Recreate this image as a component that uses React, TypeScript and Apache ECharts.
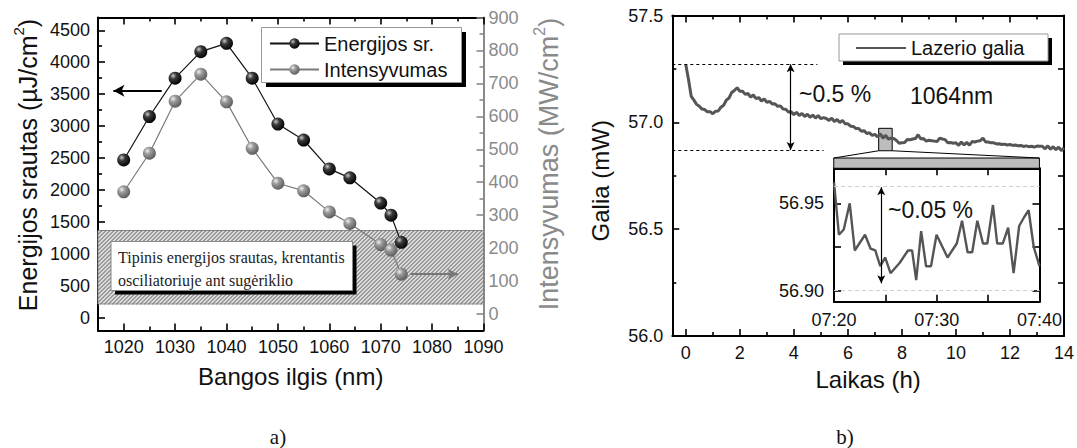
import React, { useEffect, useRef } from "react";
import * as echarts from "echarts";

const FONT = "'Liberation Sans', Arial, Helvetica, sans-serif";
const SERIF = "'Liberation Serif', 'Times New Roman', serif";

// ---------- Panel a) ----------
const wavelengths = [1020, 1025, 1030, 1035, 1040, 1045, 1050, 1055, 1060, 1064, 1070, 1072, 1074];
const energyFluence = [2470, 3150, 3750, 4165, 4295, 3750, 3032, 2782, 2330, 2190, 1795, 1605, 1180];
const intensity = [371, 488, 646, 728, 644, 503, 397, 374, 310, 275, 211, 194, 121];
const bandEnergy = [215, 1365];
const energyArrow = { from: 1027.4, to: 1018, y: 3555 };
const intensityArrow = { from: 1075.8, to: 1085, y: 121 };

const waveMajorTicks = [1020, 1030, 1040, 1050, 1060, 1070, 1080, 1090];
const waveMinorTicks = [1015, 1025, 1035, 1045, 1055, 1065, 1075, 1085];
const energyMajorTicks = [0, 500, 1000, 1500, 2000, 2500, 3000, 3500, 4000, 4500];
const energyMinorTicks = [250, 750, 1250, 1750, 2250, 2750, 3250, 3750, 4250];
const intensityMajorTicks = [0, 100, 200, 300, 400, 500, 600, 700, 800, 900];
const intensityMinorTicks = [50, 150, 250, 350, 450, 550, 650, 750, 850];

// ---------- Panel b) ----------
const powerStartHour = 0;
const powerStepHour = 0.1;
const laserPower = [
  57.270, 57.200, 57.122, 57.104, 57.084, 57.075, 57.062, 57.060, 57.049, 57.050,
  57.040, 57.052, 57.053, 57.071, 57.080, 57.104, 57.114, 57.140, 57.149, 57.162,
  57.145, 57.146, 57.131, 57.135, 57.118, 57.128, 57.111, 57.116, 57.100, 57.110,
  57.094, 57.098, 57.086, 57.087, 57.075, 57.077, 57.062, 57.061, 57.048, 57.049,
  57.036, 57.047, 57.032, 57.042, 57.027, 57.038, 57.024, 57.034, 57.020, 57.032,
  57.017, 57.022, 57.018, 57.009, 57.019, 57.004, 57.013, 56.999, 57.009, 56.993,
  56.993, 56.982, 56.981, 56.971, 56.971, 56.958, 56.961, 56.948, 56.951, 56.939,
  56.944, 56.932, 56.946, 56.926, 56.939, 56.921, 56.926, 56.924, 56.915, 56.902,
  56.904, 56.906, 56.920, 56.918, 56.922, 56.924, 56.942, 56.922, 56.924, 56.912,
  56.916, 56.914, 56.912, 56.910, 56.926, 56.922, 56.919, 56.904, 56.906, 56.902,
  56.904, 56.892, 56.908, 56.894, 56.906, 56.893, 56.910, 56.908, 56.912, 56.914,
  56.926, 56.908, 56.908, 56.904, 56.904, 56.899, 56.900, 56.896, 56.898, 56.894,
  56.896, 56.892, 56.894, 56.890, 56.892, 56.887, 56.890, 56.886, 56.888, 56.884,
  56.889, 56.888, 56.888, 56.876, 56.890, 56.874, 56.886, 56.872, 56.884, 56.868,
  56.880,
];
const hourMajorTicks = [0, 2, 4, 6, 8, 10, 12, 14];
const hourMinorTicks = [1, 3, 5, 7, 9, 11, 13];
const powerMajorTicks = [56.0, 56.5, 57.0, 57.5];
const powerMinorTicks = [56.25, 56.75, 57.25];
const driftLevels = { high: 57.272, low: 56.87, arrowHour: 3.88, highEnd: 4.87, lowEnd: 5.1 };
const zoomBox = { h0: 7.14, h1: 7.64, v0: 56.867, v1: 56.972 };
const insetAnchor = { h0: 5.477, h1: 13.09, vTop: 56.833, vBottom: 56.785 };

// inset
const insetMinutes = [0, 0.48, 0.95, 1.53, 2.02, 3.02, 3.56, 4.02, 4.5, 4.98, 5.5, 6.4, 7.2, 7.6, 8.0, 8.48, 8.96, 9.44, 9.98, 11.05, 11.95, 12.46, 13.0, 13.45, 13.95, 14.5, 14.92, 15.47, 15.88, 16.43, 16.95, 17.48, 18.02, 18.5, 18.94, 19.44, 20.0];
const insetPower = [56.962, 56.932, 56.935, 56.950, 56.923, 56.932, 56.924, 56.923, 56.914, 56.919, 56.910, 56.916, 56.923, 56.923, 56.906, 56.934, 56.914, 56.914, 56.932, 56.919, 56.927, 56.940, 56.922, 56.922, 56.940, 56.927, 56.927, 56.949, 56.927, 56.927, 56.936, 56.910, 56.937, 56.942, 56.946, 56.925, 56.914];
const insetTickMinutes = [0, 5, 10, 15, 20];
const insetLabelMinutes = [0, 10, 20];
const insetTimeLabels = ["07:20", "07:30", "07:40"];
const insetPowerTicks = [56.9, 56.925, 56.95];
const insetPowerLabels = [56.9, 56.95];
const insetRange = { high: 56.9592, low: 56.9042, arrowMinute: 4.6 };

type AxOpt = {
  grid: number;
  pos: "left" | "right" | "top" | "bottom";
  min: number;
  max: number;
  ticks: number[];
  len: number;
  color?: string;
  line?: boolean;
  labels?: number[];
  fmt?: (v: number) => string;
  margin?: number;
  name?: string;
  nameGap?: number;
  nameStyle?: any;
};

const ax = (o: AxOpt) => {
  const c = o.color || "#000";
  const a: any = {
    type: "value",
    gridIndex: o.grid,
    position: o.pos,
    min: o.min,
    max: o.max,
    axisLine: { show: !!o.line, onZero: false, lineStyle: { color: c, width: 2 } },
    axisTick: { show: true, inside: true, length: o.len, customValues: o.ticks, lineStyle: { color: c, width: 1.6 } },
    axisLabel: o.labels
      ? { show: true, customValues: o.labels, formatter: o.fmt, margin: o.margin ?? 8, color: o.color ? c : "#111", fontSize: 18, fontFamily: FONT }
      : { show: false },
    splitLine: { show: false },
    minorTick: { show: false },
    silent: true,
  };
  if (o.name) {
    a.name = o.name;
    a.nameLocation = "middle";
    a.nameGap = o.nameGap;
    a.nameTextStyle = o.nameStyle;
    if (o.pos === "left" || o.pos === "right") a.nameRotate = 90;
  }
  return a;
};

const supRich = (color: string, size: number, padding: number[]) => ({
  padding,
  rich: {
    t: { fontSize: size, fontFamily: FONT, color, lineHeight: size + 4, verticalAlign: "bottom" },
    s: { fontSize: Math.round(size * 0.6), fontFamily: FONT, color, lineHeight: Math.round(size * 0.6), verticalAlign: "top" },
  },
});

const sphere = (c0: string, c1: string, c2: string) =>
  new echarts.graphic.RadialGradient(0.35, 0.32, 0.72, [
    { offset: 0, color: c0 },
    { offset: 0.35, color: c1 },
    { offset: 1, color: c2 },
  ]);

function buildOption(): any {
  const int = (v: number) => String(Math.round(v));
  const xAxis = [
    ax({ grid: 0, pos: "bottom", min: 1015, max: 1090, ticks: waveMajorTicks, len: 7, line: true, labels: waveMajorTicks, fmt: int, margin: 7,
      name: "Bangos ilgis (nm)", nameGap: 34, nameStyle: { fontSize: 24, fontFamily: FONT, color: "#111" } }),
    ax({ grid: 0, pos: "bottom", min: 1015, max: 1090, ticks: waveMinorTicks, len: 4 }),
    ax({ grid: 0, pos: "top", min: 1015, max: 1090, ticks: waveMajorTicks, len: 7, line: true }),
    ax({ grid: 0, pos: "top", min: 1015, max: 1090, ticks: waveMinorTicks, len: 4 }),
    ax({ grid: 1, pos: "bottom", min: -0.5, max: 14, ticks: hourMajorTicks, len: 7, line: true, labels: hourMajorTicks, fmt: int, margin: 8,
      name: "Laikas (h)", nameGap: 31, nameStyle: { fontSize: 24, fontFamily: FONT, color: "#111" } }),
    ax({ grid: 1, pos: "bottom", min: -0.5, max: 14, ticks: hourMinorTicks, len: 4 }),
    ax({ grid: 1, pos: "top", min: -0.5, max: 14, ticks: hourMajorTicks, len: 7, line: true }),
    ax({ grid: 1, pos: "top", min: -0.5, max: 14, ticks: hourMinorTicks, len: 4 }),
    ax({ grid: 2, pos: "bottom", min: 0, max: 20, ticks: insetTickMinutes, len: 7, line: true, labels: insetLabelMinutes,
      fmt: (v: number) => insetTimeLabels[insetLabelMinutes.indexOf(Math.round(v))] ?? "", margin: 9 }),
    ax({ grid: 2, pos: "top", min: 0, max: 20, ticks: insetTickMinutes, len: 7, line: true }),
  ];
  const yAxis = [
    ax({ grid: 0, pos: "left", min: -200, max: 4700, ticks: energyMajorTicks, len: 7, line: true, labels: energyMajorTicks, fmt: int, margin: 8,
      name: "{t|Energijos srautas (µJ/cm}{s|2}{t|)}", nameGap: 58, nameStyle: supRich("#111", 25, [0, 0, 0, 18]) }),
    ax({ grid: 0, pos: "left", min: -200, max: 4700, ticks: energyMinorTicks, len: 4 }),
    ax({ grid: 0, pos: "right", min: -50, max: 900, ticks: intensityMajorTicks, len: 7, color: "#8a8a8a", line: true, labels: intensityMajorTicks, fmt: int, margin: 5,
      name: "{t|Intensyvumas (MW/cm}{s|2}{t|)}", nameGap: 48, nameStyle: supRich("#8a8a8a", 27, [0, 0, 0, 20]) }),
    ax({ grid: 0, pos: "right", min: -50, max: 900, ticks: intensityMinorTicks, len: 4, color: "#8a8a8a" }),
    ax({ grid: 1, pos: "left", min: 56, max: 57.5, ticks: powerMajorTicks, len: 7, line: true, labels: powerMajorTicks, fmt: (v: number) => v.toFixed(1), margin: 9,
      name: "Galia (mW)", nameGap: 60, nameStyle: { fontSize: 24, fontFamily: FONT, color: "#111", padding: [0, 10, 0, 0] } }),
    ax({ grid: 1, pos: "right", min: 56, max: 57.5, ticks: [...powerMajorTicks, ...powerMinorTicks], len: 6, line: true }),
    ax({ grid: 2, pos: "left", min: 56.8937, max: 56.97, ticks: insetPowerTicks, len: 7, line: true, labels: insetPowerLabels, fmt: (v: number) => v.toFixed(2), margin: 10 }),
    ax({ grid: 2, pos: "right", min: 56.8937, max: 56.97, ticks: insetPowerTicks, len: 7, line: true }),
    ax({ grid: 1, pos: "left", min: 56, max: 57.5, ticks: powerMinorTicks, len: 4 }),
  ];

  const noMark = { silent: true, animation: false };

  const series: any[] = [
    {
      type: "custom",
      name: "band",
      xAxisIndex: 0,
      yAxisIndex: 0,
      z: 1,
      silent: true,
      encode: { x: [0, 1], y: [2, 3] },
      data: [[1015, 1090, bandEnergy[0], bandEnergy[1]]],
      renderItem: (params: any, api: any) => {
        const p0 = api.coord([api.value(0), api.value(3)]);
        const p1 = api.coord([api.value(1), api.value(2)]);
        const x0 = p0[0], x1 = p1[0], yTop = p0[1], yBot = p1[1];
        const h = yBot - yTop;
        const children: any[] = [
          { type: "rect", shape: { x: x0, y: yTop, width: x1 - x0, height: h }, style: { fill: "#dcdcdc", stroke: "#8a8a8a", lineWidth: 1 } },
        ];
        const gap = 4;
        for (let s = x0 - h; s < x1; s += gap) {
          const t0 = Math.max(0, x0 - s);
          const t1 = Math.min(h, x1 - s);
          if (t1 <= t0) continue;
          children.push({
            type: "line",
            shape: { x1: s + t0, y1: yBot - t0, x2: s + t1, y2: yBot - t1 },
            style: { stroke: "#4a4a4a", lineWidth: 0.9 },
          });
        }
        return { type: "group", children };
      },
    },
    {
      type: "line",
      name: "Energijos sr.",
      xAxisIndex: 0,
      yAxisIndex: 0,
      z: 4,
      data: wavelengths.map((w, i) => [w, energyFluence[i]]),
      symbol: "circle",
      symbolSize: 13,
      itemStyle: { color: sphere("#c8c8c8", "#3a3a3a", "#000") },
      lineStyle: { color: "#111", width: 1.2 },
      markLine: {
        ...noMark,
        symbol: ["none", "arrow"],
        symbolSize: [9, 11],
        label: { show: false },
        lineStyle: { color: "#000", width: 2, type: "solid" },
        data: [[{ coord: [energyArrow.from, energyArrow.y] }, { coord: [energyArrow.to, energyArrow.y] }]],
      },
    },
    {
      type: "line",
      name: "Intensyvumas",
      xAxisIndex: 0,
      yAxisIndex: 2,
      z: 3,
      data: wavelengths.map((w, i) => [w, intensity[i]]),
      symbol: "circle",
      symbolSize: 13,
      itemStyle: { color: sphere("#f0f0f0", "#9a9a9a", "#5a5a5a") },
      lineStyle: { color: "#7a7a7a", width: 1.2 },
      markLine: {
        ...noMark,
        symbol: ["none", "arrow"],
        symbolSize: [8, 10],
        label: { show: false },
        lineStyle: { color: "#777", width: 2, type: "solid" },
        data: [[{ coord: [intensityArrow.from, intensityArrow.y] }, { coord: [intensityArrow.to, intensityArrow.y] }]],
      },
    },
    {
      type: "line",
      name: "Lazerio galia",
      xAxisIndex: 4,
      yAxisIndex: 4,
      z: 4,
      data: laserPower.map((v, i) => [powerStartHour + i * powerStepHour, v]),
      symbol: "none",
      lineStyle: { color: "#555", width: 3 },
      itemStyle: { color: "#555" },
      markLine: {
        ...noMark,
        symbol: "none",
        label: { show: false },
        lineStyle: { color: "#000", width: 1.2, type: [3, 3] },
        data: [
          [{ coord: [-0.5, driftLevels.high] }, { coord: [driftLevels.highEnd, driftLevels.high] }],
          [{ coord: [-0.5, driftLevels.low] }, { coord: [driftLevels.lowEnd, driftLevels.low] }],
          [
            { coord: [driftLevels.arrowHour, driftLevels.high], symbol: "arrow", symbolSize: [6, 8], lineStyle: { type: "solid", width: 1.2 } },
            { coord: [driftLevels.arrowHour, driftLevels.low], symbol: "arrow", symbolSize: [6, 8] },
          ],
          [
            { coord: [zoomBox.h0, zoomBox.v0], lineStyle: { type: "solid", width: 1 } },
            { coord: [insetAnchor.h0, insetAnchor.vTop] },
          ],
          [
            { coord: [zoomBox.h1, zoomBox.v0], lineStyle: { type: "solid", width: 1 } },
            { coord: [insetAnchor.h1, insetAnchor.vTop] },
          ],
        ],
      },
      markArea: {
        ...noMark,
        label: { show: false },
        itemStyle: { color: "#bdbdbd", borderColor: "#000", borderWidth: 1, opacity: 1 },
        data: [
          [{ coord: [zoomBox.h0, zoomBox.v1] }, { coord: [zoomBox.h1, zoomBox.v0] }],
          [{ coord: [insetAnchor.h0, insetAnchor.vTop] }, { coord: [insetAnchor.h1, insetAnchor.vBottom] }],
        ],
      },
    },
    {
      type: "line",
      name: "inset",
      xAxisIndex: 8,
      yAxisIndex: 6,
      z: 4,
      data: insetMinutes.map((m, i) => [m, insetPower[i]]),
      symbol: "none",
      lineStyle: { color: "#555", width: 2.4 },
      markLine: {
        ...noMark,
        symbol: "none",
        label: { show: false },
        lineStyle: { color: "#d0d0d0", width: 1, type: [4, 3] },
        data: [
          { yAxis: insetRange.high },
          { yAxis: insetRange.low },
          [
            { coord: [insetRange.arrowMinute, insetRange.high], symbol: "arrow", symbolSize: [6, 8], lineStyle: { color: "#000", type: "solid", width: 1.2 } },
            { coord: [insetRange.arrowMinute, insetRange.low], symbol: "arrow", symbolSize: [6, 8] },
          ],
        ],
      },
    },
  ];

  const txt = (text: string, x: number, y: number, size: number, family = FONT, align = "left", color = "#111") => ({
    type: "text",
    x,
    y,
    z: 20,
    silent: true,
    style: { text, fontSize: size, fontFamily: family, fill: color, align, verticalAlign: "middle", textAlign: align, textVerticalAlign: "middle" },
  });
  const box = (x: number, y: number, w: number, h: number, off: number, stroke: string) => [
    { type: "rect", z: 18, silent: true, shape: { x: x + off, y: y + off, width: w, height: h }, style: { fill: "#000" } },
    { type: "rect", z: 18, silent: true, shape: { x, y, width: w, height: h }, style: { fill: "#fff", stroke, lineWidth: 1 } },
  ];

  const graphic = [
    ...box(261.5, 27.5, 200, 55, 4.5, "#999"),
    ...box(839, 34, 209, 27, 4, "#999"),
    ...box(111, 241.5, 241.5, 49, 4, "#888"),
    txt("Tipinis energijos srautas, krentantis", 118, 257.5, 16, SERIF, "left", "#222"),
    txt("osciliatoriuje ant sugėriklio", 118, 280, 16, SERIF, "left", "#222"),
    txt("~0.5 %", 799, 93.5, 23),
    txt("1064nm", 910, 95.5, 23),
    txt("~0.05 %", 888, 210, 23),
    txt("a)", 278, 437, 21, SERIF, "center"),
    txt("b)", 845, 437, 21, SERIF, "center"),
  ];

  return {
    animation: false,
    backgroundColor: "#fff",
    textStyle: { fontFamily: FONT },
    grid: [
      { left: 98, top: 17.5, width: 385.5, height: 313 },
      { left: 672.3, top: 15.5, width: 392.4, height: 320.5 },
      { left: 834, top: 168.3, width: 205.5, height: 133.4, show: true, backgroundColor: "#fff", borderWidth: 0 },
    ],
    legend: [
      {
        data: ["Energijos sr.", "Intensyvumas"],
        orient: "vertical",
        left: 269,
        top: 33.5,
        padding: 0,
        itemWidth: 49,
        itemHeight: 13,
        itemGap: 6,
        z: 30,
        selectedMode: false,
        textStyle: { fontSize: 20, fontFamily: FONT, color: "#111", lineHeight: 20 },
      },
      {
        data: [{ name: "Lazerio galia", icon: "rect" }],
        left: 856,
        top: 38,
        padding: 0,
        itemWidth: 50,
        itemHeight: 2.2,
        itemStyle: { color: "#555" },
        z: 30,
        selectedMode: false,
        textStyle: { fontSize: 20, fontFamily: FONT, color: "#111", lineHeight: 20 },
      },
    ],
    xAxis,
    yAxis,
    series,
    graphic,
  };
}

export default function App() {
  const ref = useRef<HTMLDivElement>(null);
  useEffect(() => {
    if (!ref.current) return;
    const chart = echarts.init(ref.current, null, { renderer: "svg" });
    chart.setOption(buildOption());
    return () => chart.dispose();
  }, []);
  return (
    <div
      ref={ref}
      style={{ position: "absolute", left: 0, top: 0, width: 1077, height: 448, background: "#fff" }}
    />
  );
}
